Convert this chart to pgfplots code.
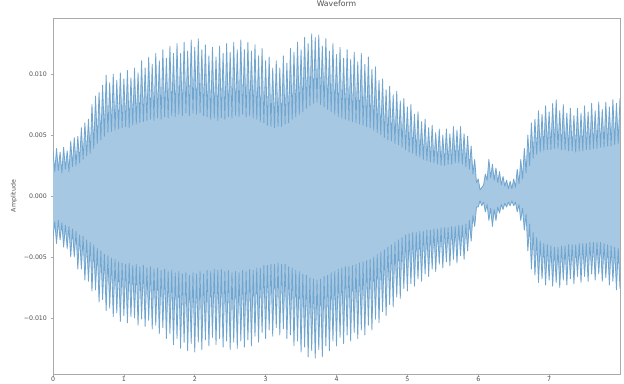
\documentclass[border=0pt]{standalone}
\usepackage{pgfplots}
\pgfplotsset{compat=1.18}
\usepackage{pgfplotstable}
\usepackage{fontspec}
\setmainfont{DejaVu Sans}
\definecolor{wavefill}{RGB}{166,200,226}
\definecolor{wavestroke}{RGB}{112,165,207}
\definecolor{framegray}{RGB}{170,170,170}
\definecolor{textgray}{RGB}{80,80,80}
% amplitude in units of 1e-3
\pgfplotstableread{
t hi lo
0.000 3.7 -3.4
0.025 2.0 -2.1
0.050 3.9 -3.9
0.075 2.1 -2.0
0.100 3.6 -3.6
0.125 1.9 -2.2
0.150 4.0 -4.2
0.175 2.2 -2.4
0.200 3.7 -4.3
0.225 2.0 -2.5
0.250 4.5 -5.0
0.275 2.4 -2.7
0.300 4.8 -5.0
0.325 2.5 -2.9
0.350 4.9 -6.0
0.375 2.7 -3.2
0.400 5.6 -6.0
0.425 3.0 -3.3
0.450 6.0 -6.9
0.475 3.3 -3.6
0.500 6.3 -7.0
0.525 3.5 -3.8
0.550 7.5 -7.8
0.575 3.9 -4.0
0.600 8.2 -7.7
0.625 4.3 -4.3
0.650 8.5 -8.7
0.675 4.6 -4.5
0.700 9.1 -8.5
0.725 4.9 -4.8
0.750 9.9 -9.4
0.775 5.2 -4.9
0.800 9.3 -9.2
0.825 5.3 -5.1
0.850 10.0 -9.9
0.875 5.4 -5.2
0.900 9.5 -9.6
0.925 5.5 -5.4
0.950 10.1 -10.3
0.975 5.6 -5.5
1.000 9.6 -9.8
1.025 5.7 -5.6
1.050 10.3 -10.4
1.075 5.6 -5.5
1.100 9.7 -9.9
1.125 5.8 -5.7
1.150 10.5 -10.0
1.175 5.9 -5.6
1.200 10.1 -10.6
1.225 6.0 -5.8
1.250 11.1 -10.1
1.275 6.1 -5.7
1.300 10.5 -10.7
1.325 6.2 -5.9
1.350 11.4 -10.2
1.375 6.3 -5.8
1.400 10.8 -10.9
1.425 6.2 -6.0
1.450 11.7 -10.6
1.475 6.4 -5.9
1.500 11.1 -11.3
1.525 6.3 -6.1
1.550 12.0 -10.8
1.575 6.5 -6.0
1.600 11.3 -11.7
1.625 6.4 -6.2
1.650 12.3 -11.3
1.675 6.6 -6.1
1.700 11.7 -12.2
1.725 6.5 -6.3
1.750 12.5 -11.7
1.775 6.7 -6.2
1.800 11.7 -12.5
1.825 6.6 -6.4
1.850 12.6 -12.0
1.875 6.8 -6.3
1.900 11.9 -12.7
1.925 6.6 -6.5
1.950 12.8 -12.1
1.975 6.8 -6.3
2.000 12.2 -12.8
2.025 6.7 -6.4
2.050 12.9 -12.0
2.075 6.8 -6.2
2.100 12.0 -12.6
2.125 6.6 -6.4
2.150 12.4 -11.8
2.175 6.5 -6.1
2.200 11.5 -12.3
2.225 6.3 -6.2
2.250 12.2 -11.6
2.275 6.4 -6.0
2.300 11.4 -12.2
2.325 6.2 -6.1
2.350 12.3 -11.7
2.375 6.4 -6.0
2.400 11.7 -12.4
2.425 6.3 -6.2
2.450 12.5 -11.9
2.475 6.5 -6.1
2.500 11.8 -12.6
2.525 6.4 -6.3
2.550 12.6 -12.0
2.575 6.6 -6.2
2.600 12.0 -12.5
2.625 6.5 -6.3
2.650 12.8 -11.9
2.675 6.7 -6.1
2.700 12.0 -12.4
2.725 6.5 -6.2
2.750 12.6 -11.8
2.775 6.6 -6.0
2.800 11.9 -12.3
2.825 6.4 -6.1
2.850 12.4 -11.5
2.875 6.3 -5.9
2.900 11.5 -12.0
2.925 6.1 -5.9
2.950 12.1 -11.2
2.975 6.0 -5.7
3.000 11.1 -11.7
3.025 5.8 -5.7
3.050 11.4 -11.0
3.075 5.7 -5.6
3.100 10.5 -11.5
3.125 5.6 -5.6
3.150 11.1 -10.8
3.175 5.7 -5.5
3.200 10.5 -11.4
3.225 5.7 -5.6
3.250 11.5 -10.9
3.275 5.9 -5.6
3.300 10.9 -11.7
3.325 6.0 -5.8
3.350 12.1 -11.4
3.375 6.3 -5.9
3.400 11.8 -12.3
3.425 6.5 -6.1
3.450 12.6 -11.9
3.475 6.7 -6.2
3.500 12.0 -12.8
3.525 6.9 -6.4
3.550 13.0 -12.4
3.575 7.2 -6.5
3.600 12.5 -13.2
3.625 7.4 -6.7
3.650 13.3 -12.7
3.675 7.6 -6.8
3.700 13.0 -13.3
3.725 7.7 -6.9
3.750 13.2 -12.6
3.775 7.5 -6.8
3.800 12.3 -13.2
3.825 7.3 -6.6
3.850 12.9 -12.3
3.875 7.1 -6.5
3.900 11.9 -12.7
3.925 6.9 -6.3
3.950 12.5 -11.9
3.975 6.7 -6.2
4.000 11.6 -12.3
4.025 6.5 -6.0
4.050 12.2 -11.6
4.075 6.4 -5.9
4.100 11.3 -12.1
4.125 6.3 -5.8
4.150 12.0 -11.4
4.175 6.2 -5.8
4.200 11.2 -11.9
4.225 6.1 -5.7
4.250 11.8 -11.2
4.275 6.0 -5.6
4.300 11.0 -11.7
4.325 5.9 -5.5
4.350 11.7 -11.0
4.375 5.8 -5.4
4.400 10.8 -11.4
4.425 5.7 -5.3
4.450 11.4 -10.6
4.475 5.6 -5.2
4.500 10.4 -11.0
4.525 5.4 -5.0
4.550 10.6 -10.1
4.575 5.2 -4.8
4.600 9.5 -10.4
4.625 5.0 -4.6
4.650 9.6 -9.5
4.675 4.8 -4.4
4.700 8.7 -9.8
4.725 4.6 -4.2
4.750 9.0 -8.9
4.775 4.5 -4.0
4.800 8.3 -9.1
4.825 4.3 -3.8
4.850 8.6 -8.3
4.875 4.2 -3.6
4.900 7.8 -8.4
4.925 4.0 -3.4
4.950 8.0 -7.6
4.975 3.8 -3.2
5.000 7.3 -7.8
5.025 3.6 -3.1
5.050 7.5 -7.2
5.075 3.5 -3.0
5.100 6.7 -7.4
5.125 3.3 -3.0
5.150 6.9 -6.8
5.175 3.2 -2.9
5.200 6.1 -7.0
5.225 3.0 -2.9
5.250 6.3 -6.4
5.275 2.9 -2.8
5.300 5.6 -6.6
5.325 2.8 -2.8
5.350 5.8 -6.0
5.375 2.7 -2.7
5.400 5.2 -6.2
5.425 2.6 -2.7
5.450 5.5 -5.6
5.475 2.5 -2.6
5.500 5.0 -5.9
5.525 2.5 -2.6
5.550 5.5 -5.4
5.575 2.6 -2.6
5.600 5.1 -5.7
5.625 2.6 -2.5
5.650 5.7 -5.2
5.675 2.7 -2.5
5.700 5.4 -5.5
5.725 2.7 -2.4
5.750 5.7 -4.9
5.775 2.6 -2.4
5.800 5.1 -5.2
5.825 2.4 -2.3
5.850 4.9 -4.5
5.875 2.2 -2.0
5.900 4.1 -3.7
5.925 1.8 -1.6
5.950 3.0 -2.5
5.975 1.1 -0.9
6.000 1.4 -0.9
6.025 0.5 -0.4
6.050 0.7 -0.8
6.075 0.9 -0.5
6.100 1.8 -1.3
6.125 1.3 -0.7
6.150 3.0 -2.0
6.175 1.5 -1.0
6.200 2.6 -2.5
6.225 1.3 -1.1
6.250 2.3 -2.0
6.275 1.1 -0.9
6.300 2.0 -1.4
6.325 0.9 -0.7
6.350 1.6 -1.1
6.375 0.8 -0.6
6.400 1.3 -0.9
6.425 0.6 -0.5
6.450 1.2 -0.8
6.475 0.6 -0.4
6.500 1.4 -0.8
6.525 0.7 -0.5
6.550 2.2 -1.3
6.575 1.0 -0.7
6.600 3.0 -2.0
6.625 1.4 -1.0
6.650 3.9 -2.8
6.675 1.9 -1.5
6.700 5.0 -4.5
6.725 2.5 -2.3
6.750 6.0 -6.0
6.775 3.1 -3.0
6.800 6.3 -6.5
6.825 3.4 -3.4
6.850 7.0 -7.1
6.875 3.6 -3.7
6.900 6.7 -6.8
6.925 3.7 -3.9
6.950 7.4 -7.3
6.975 3.8 -4.0
7.000 6.9 -6.9
7.025 3.8 -4.1
7.050 7.6 -7.4
7.075 3.9 -4.2
7.100 7.9 -7.1
7.125 3.9 -4.2
7.150 7.0 -7.5
7.175 3.8 -4.1
7.200 7.5 -6.9
7.225 3.8 -4.1
7.250 6.8 -7.3
7.275 3.7 -4.0
7.300 7.2 -6.8
7.325 3.7 -4.0
7.350 6.6 -7.2
7.375 3.6 -4.0
7.400 7.2 -6.6
7.425 3.7 -3.9
7.450 6.8 -7.1
7.475 3.7 -3.9
7.500 7.4 -6.6
7.525 3.8 -3.9
7.550 6.9 -7.0
7.575 3.8 -3.8
7.600 7.6 -6.4
7.625 3.9 -3.8
7.650 7.0 -6.9
7.675 3.9 -3.8
7.700 7.7 -6.4
7.725 4.0 -3.8
7.750 7.1 -7.0
7.775 4.0 -3.9
7.800 7.7 -6.7
7.825 4.1 -4.0
7.850 7.3 -7.3
7.875 4.1 -4.1
7.900 7.9 -7.0
7.925 4.2 -4.2
7.950 7.6 -7.7
7.975 4.3 -4.3
8.000 8.0 -7.6
}\wave
\begin{document}
\begin{tikzpicture}
\begin{axis}[
  scale only axis,
  width=567bp, height=356bp,
  xmin=0, xmax=8,
  ymin=-14.6, ymax=14.6,
  xtick={0,1,2,3,4,5,6,7},
  ytick={-10,-5,0,5,10},
  yticklabels={−0.010,−0.005,0.000,0.005,0.010},
  tick align=outside,
  xtick pos=bottom, ytick pos=left,
  major tick length=2.5bp,
  every tick/.style={framegray, line width=0.6bp},
  axis line style={framegray, line width=0.6bp},
  tick label style={font=\fontsize{6.3}{7}\selectfont, text=textgray},
  xticklabel style={inner sep=0.5bp},
  /pgf/number format/assume math mode=true,
  title={Waveform},
  title style={font=\fontsize{7.8}{9}\selectfont, text=textgray, at={(axis description cs:0.5,1)}, anchor=south, inner sep=0pt, yshift=5bp},
  ylabel={Amplitude},
  ylabel style={font=\fontsize{6.3}{7}\selectfont, text=textgray, at={(axis description cs:-0.0688,0.5)}, anchor=center},
  clip=true,
]
\addplot[draw=none, fill=wavefill] table[x=t, y=hi] {\wave} \closedcycle;
\addplot[draw=none, fill=wavefill] table[x=t, y=lo] {\wave} \closedcycle;
\addplot[wavestroke, line width=0.8bp, line join=round] table[x=t, y=hi] {\wave};
\addplot[wavestroke, line width=0.8bp, line join=round] table[x=t, y=lo] {\wave};
\end{axis}
\pgfresetboundingbox
\useasboundingbox (-53bp,-10bp) rectangle (571bp,374bp);
\end{tikzpicture}
\end{document}
